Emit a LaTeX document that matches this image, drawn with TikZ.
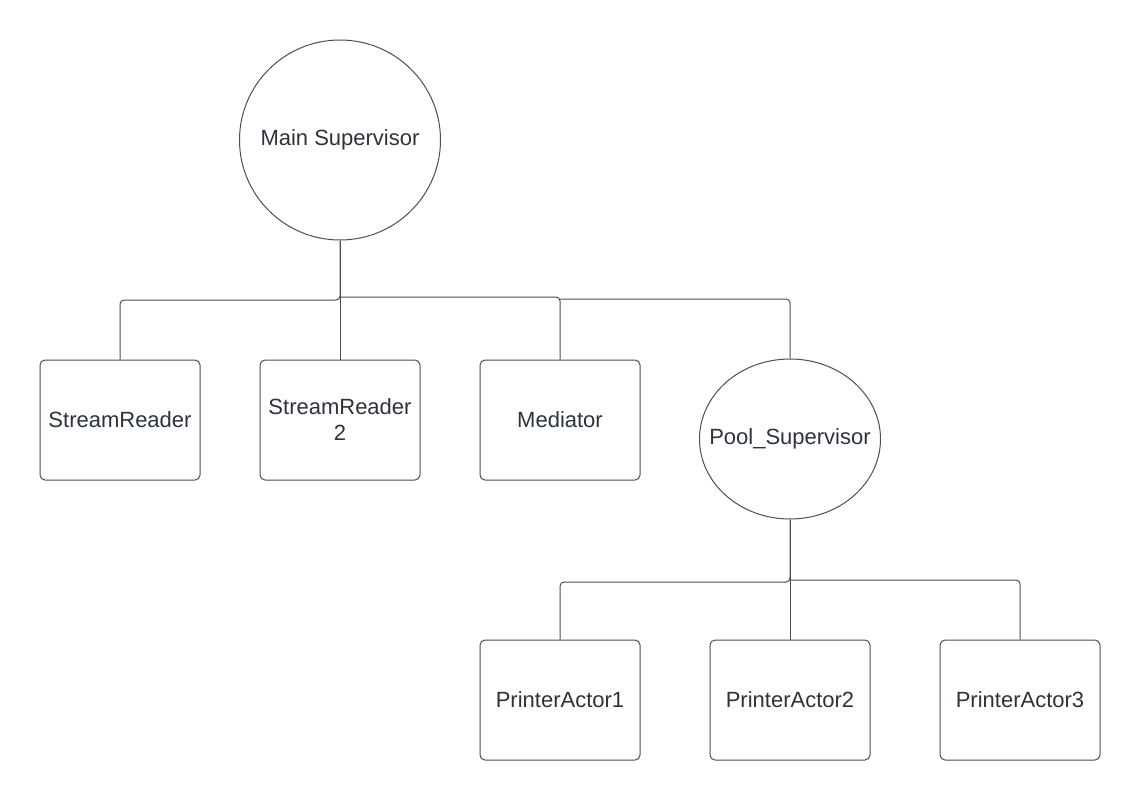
\documentclass[tikz,border=0pt]{standalone}
\usepackage{fontspec}
\setmainfont{Liberation Sans}
\usetikzlibrary{shapes.geometric}
\definecolor{ink}{HTML}{2E333B}
\definecolor{edge}{HTML}{4A4F57}
\begin{document}
\begin{tikzpicture}[x=1pt,y=-1pt,
  lab/.style={text=ink,font=\fontsize{22}{26}\selectfont,align=center},
  actor/.style={lab,draw=edge,line width=1pt,rounded corners=5pt,minimum width=160pt,minimum height=120pt,inner sep=0pt},
  sup/.style={lab,draw=edge,line width=1pt,ellipse,inner xsep=-40pt,inner ysep=0pt},
  conn/.style={draw=edge,line width=1pt,rounded corners=4pt}]
\useasboundingbox[fill=white] (0,0) rectangle (1140,800);
\node[sup,minimum width=201pt,minimum height=200pt] (main) at (340,140) {Main Supervisor};
\node[actor] (sr1) at (120,420) {StreamReader};
\node[actor] (sr2) at (340,420) {StreamReader\\2};
\node[actor] (med) at (560,420) {Mediator};
\node[sup,minimum width=181pt,minimum height=160pt] (pool) at (790,439) {Pool\_Supervisor};
\node[actor] (p1) at (560,700) {PrinterActor1};
\node[actor] (p2) at (790,700) {PrinterActor2};
\node[actor] (p3) at (1020,700) {PrinterActor3};
\coordinate (b1) at (120,300);
\coordinate (b3) at (560,297);
\coordinate (b4) at (790,299);
\coordinate (c1) at (560,582);
\coordinate (c3) at (1020,580);
\draw[conn] (main.south) |- (b1) -- (sr1.north);
\draw[conn] (main.south) -- (sr2.north);
\draw[conn] (main.south |- b3) -- (b3) -- (med.north);
\draw[conn] (med.north |- b4) -- (b4) -- (pool.north);
\draw[conn] (pool.south) |- (c1) -- (p1.north);
\draw[conn] (pool.south) -- (p2.north);
\draw[conn] (pool.south |- c3) -- (c3) -- (p3.north);
\end{tikzpicture}
\end{document}
